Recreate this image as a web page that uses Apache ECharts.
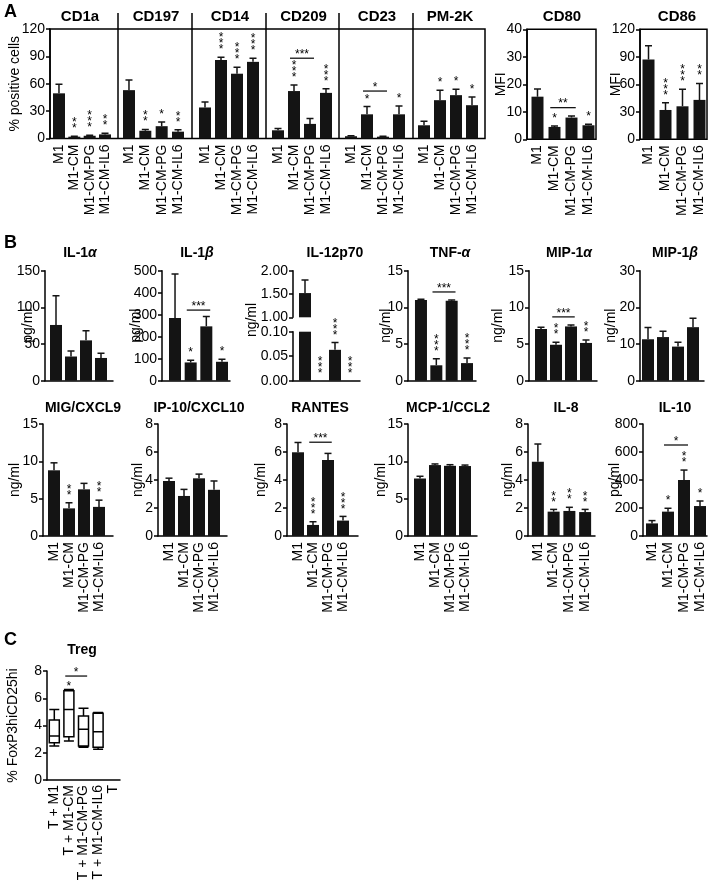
<!DOCTYPE html>
<html><head><meta charset="utf-8">
<script src="https://cdn.jsdelivr.net/npm/echarts@6/dist/echarts.min.js"></script>
<style>html,body{margin:0;padding:0;background:#fff}#c{width:709px;height:886px}</style>
</head><body><div id="c"></div>
<script>
// ---------------- DATA ----------------
const categories = ['M1', 'M1-CM', 'M1-CM-PG', 'M1-CM-IL6'];
const tregCategories = ['T + M1', 'T + M1-CM', 'T + M1-CM-PG', 'T + M1-CM-IL6', 'T'];

// Panel A (% positive cells, MFI): mean and SEM
const CD1a_mean = [49.5, 2, 3, 4.5];      const CD1a_sem = [10, 0.5, 0.6, 1.2];   const CD1a_stars = ['', '**', '***', '**'];
const CD197_mean = [53, 8.5, 13.5, 7.5];  const CD197_sem = [11, 1.5, 4.5, 2];    const CD197_stars = ['', '**', '*', '**'];
const CD14_mean = [34, 86, 71, 84];       const CD14_sem = [6, 3, 7, 4];          const CD14_stars = ['', '***', '***', '***'];
const CD209_mean = [9, 52, 16, 50];       const CD209_sem = [2, 6.5, 6, 4.5];     const CD209_stars = ['', '***', '', '***'];
const CD23_mean = [2.5, 26.5, 2, 26.5];   const CD23_sem = [0.5, 8.5, 0.5, 9];    const CD23_stars = ['', '*', '', '*'];
const PM2K_mean = [14.5, 42, 47.5, 36.5]; const PM2K_sem = [4.5, 11, 6.5, 9];     const PM2K_stars = ['', '*', '*', '*'];
const CD80_mean = [15.5, 4.5, 7.9, 5.1];  const CD80_sem = [2.8, 0.3, 0.6, 0.4];  const CD80_stars = ['', '*', '', '*'];
const CD86_mean = [87, 32, 36, 43];       const CD86_sem = [15, 8, 18.5, 18];     const CD86_stars = ['', '***', '***', '**'];
const percentTicks = [0, 30, 60, 90, 120];

// Panel B (cytokines): mean and SEM
const IL1a_mean = [76, 33, 55, 31];       const IL1a_sem = [40, 7.5, 13, 6.5];
const IL1b_mean = [285, 83, 247, 86];     const IL1b_sem = [200, 10, 45, 12];     const IL1b_stars = ['', '*', '', '*'];
const IL12_mean = [1.52, 0, 0.063, 0];    const IL12_sem = [0.28, 0, 0.015, 0];   const IL12_stars = ['', '***', '***', '***'];
const TNFa_mean = [11.0, 2.1, 10.9, 2.4]; const TNFa_sem = [0.12, 0.9, 0.12, 0.7]; const TNFa_stars = ['', '***', '', '***'];
const MIP1a_mean = [7.05, 4.9, 7.4, 5.15];const MIP1a_sem = [0.25, 0.35, 0.2, 0.4];const MIP1a_stars = ['', '**', '', '**'];
const MIP1b_mean = [11.3, 11.9, 9.3, 14.6];const MIP1b_sem = [3.2, 1.6, 1.2, 2.4];
const MIG_mean = [8.8, 3.7, 6.25, 3.9];   const MIG_sem = [1.0, 0.75, 0.8, 0.9];  const MIG_stars = ['', '**', '', '**'];
const IP10_mean = [3.93, 2.86, 4.12, 3.3];const IP10_sem = [0.2, 0.47, 0.3, 0.63];
const RANTES_mean = [5.98, 0.79, 5.43, 1.1]; const RANTES_sem = [0.7, 0.23, 0.47, 0.3]; const RANTES_stars = ['', '***', '', '***'];
const MCP1_mean = [7.7, 9.5, 9.4, 9.37];  const MCP1_sem = [0.3, 0.15, 0.15, 0.13];
const IL8_mean = [5.3, 1.74, 1.79, 1.71]; const IL8_sem = [1.27, 0.16, 0.26, 0.19]; const IL8_stars = ['', '**', '**', '**'];
const IL10_mean = [90, 174, 400, 214];    const IL10_sem = [20, 24, 71, 36];      const IL10_stars = ['', '*', '**', '*'];

// Brackets: [from index, to index, height, label]
const CD209_bracket = [1, 2, 88, '***'];
const CD23_bracket = [1, 2, 52, '*'];
const CD80_bracket = [1, 2, 11.5, '**'];
const IL1b_bracket = [1, 2, 321, '***'];
const TNFa_bracket = [1, 2, 12.1, '***'];
const MIP1a_bracket = [1, 2, 8.7, '***'];
const RANTES_bracket = [1, 2, 6.7, '***'];
const IL10_bracket = [1, 2, 650, '*'];
const Treg_bracket = [1, 2, 7.63, '*'];

// Panel C (Treg %): [min, Q1, median, Q3, max]
const Treg_TM1 = [2.5, 2.74, 3.23, 4.4, 5.18];
const Treg_TCM = [2.86, 3.18, 5.18, 6.55, 6.65];
const Treg_TPG = [2.4, 2.5, 3.72, 4.7, 5.26];
const Treg_TIL6 = [2.25, 2.4, 3.55, 4.89, 4.96];
const Treg_stars = ['', '*', '', '', ''];

// ---------------- BUILD ----------------
const FONT = '"Liberation Sans", Arial, Helvetica, sans-serif';
const INK = '#141414';
const STAR_FONT = '12px ' + FONT;
const grids = [], xAxes = [], yAxes = [], series = [], titles = [], graphics = [];

function addGrid(l, r, t, b, border) {
  grids.push({left: l, top: t, width: r - l, height: b - t, show: !!border,
    borderColor: '#000', borderWidth: 1.5, backgroundColor: 'rgba(0,0,0,0)'});
  return grids.length - 1;
}
function outerAxes(gi, o) {
  xAxes.push({gridIndex: gi, type: 'category', data: o.cats || categories,
    axisLine: {show: !!o.xLine, lineStyle: {color: '#000', width: 1.5}},
    axisTick: {show: false}, axisLabel: {show: false}, splitLine: {show: false}});
  yAxes.push({gridIndex: gi, type: 'value', min: o.min, max: o.max, interval: o.interval,
    axisLine: {show: true, lineStyle: {color: '#000', width: 1.5}},
    axisTick: {show: true, length: 4, lineStyle: {color: '#000', width: 1.5}},
    axisLabel: {color: '#000', fontSize: 14, fontFamily: FONT, margin: 5, formatter: o.fmt},
    splitLine: {show: false},
    name: o.name || '', nameLocation: 'middle', nameGap: o.nameGap || 20, nameRotate: 90, nameMoveOverlap: false,
    nameTextStyle: {color: '#000', fontSize: 14, fontFamily: FONT}});
}
function innerAxes(gi, o) {
  xAxes.push({gridIndex: gi, type: 'category', data: o.cats || categories,
    axisLine: {show: false}, axisTick: {show: false}, splitLine: {show: false},
    axisLabel: {show: !!o.labels, rotate: 90, interval: 0, color: '#000', fontSize: 14, fontFamily: FONT, margin: 6}});
  yAxes.push({gridIndex: gi, type: 'value', min: o.min, max: o.max, show: false, splitLine: {show: false}});
}
function starSeries(gi, tops, stars, gap) {
  series.push({type: 'custom', xAxisIndex: gi, yAxisIndex: gi, silent: true,
    data: tops.map((t, i) => [i, t]),
    renderItem: function (params, api) {
      const s = stars[params.dataIndex];
      if (!s) return null;
      const p = api.coord([api.value(0), api.value(1)]);
      const ch = [];
      for (let k = 0; k < s.length; k++) {
        ch.push({type: 'text', style: {text: '*', x: p[0], y: p[1] - (gap || 10) - k * 6 + 2.8,
          align: 'center', verticalAlign: 'middle', font: STAR_FONT, fill: '#000'}});
      }
      return {type: 'group', children: ch};
    }});
}
function bracketSeries(gi, br) {
  series.push({type: 'custom', xAxisIndex: gi, yAxisIndex: gi, silent: true,
    data: [[br[0], br[2], br[1]]],
    renderItem: function (params, api) {
      const p1 = api.coord([api.value(0), api.value(1)]);
      const p2 = api.coord([api.value(2), api.value(1)]);
      const bw = api.size([1, 0])[0];
      const x1 = p1[0] - 0.25 * bw, x2 = p2[0] + 0.25 * bw;
      return {type: 'group', children: [
        {type: 'line', shape: {x1: x1, y1: p1[1], x2: x2, y2: p1[1]}, style: {stroke: '#000', lineWidth: 1.2}},
        {type: 'text', style: {text: br[3], x: (x1 + x2) / 2, y: p1[1] - 3.5, align: 'center',
          verticalAlign: 'middle', font: STAR_FONT, fill: '#000'}}
      ]};
    }});
}
function barsOn(gi, mean, sem, stars, bracket) {
  series.push({type: 'bar', xAxisIndex: gi, yAxisIndex: gi, data: mean, barWidth: 12,
    itemStyle: {color: INK}, silent: true});
  series.push({type: 'custom', xAxisIndex: gi, yAxisIndex: gi, silent: true, clip: true,
    data: mean.map((m, i) => [i, m, m + sem[i]]),
    renderItem: function (params, api) {
      if (api.value(2) <= api.value(1)) return null;
      const a = api.coord([api.value(0), api.value(1)]);
      const b = api.coord([api.value(0), api.value(2)]);
      return {type: 'group', children: [
        {type: 'line', shape: {x1: a[0], y1: a[1], x2: b[0], y2: b[1]}, style: {stroke: INK, lineWidth: 1.5}},
        {type: 'line', shape: {x1: b[0] - 3.5, y1: b[1], x2: b[0] + 3.5, y2: b[1]}, style: {stroke: INK, lineWidth: 1.5}}
      ]};
    }});
  if (stars) starSeries(gi, mean.map((m, i) => m + sem[i]), stars);
  if (bracket) bracketSeries(gi, bracket);
}
function addTitle(rich, x, yc, size) {
  titles.push({text: rich, left: x, top: yc - 9, textAlign: 'center', padding: 0, itemGap: 0,
    textStyle: {rich: {
      b: {fontWeight: 'bold', fontSize: size || 14, fontFamily: FONT, color: '#000'},
      i: {fontWeight: 'bold', fontStyle: 'italic', fontSize: size || 14, fontFamily: FONT, color: '#000'}}}});
}
function panel(o) {
  const go = addGrid(o.axis[0], o.axis[1], o.top, o.bottom, o.frame);
  outerAxes(go, {min: o.min, max: o.max, interval: o.interval, name: o.name, nameGap: o.nameGap, fmt: o.fmt, xLine: !o.frame && o.xLine !== false});
  const gi = addGrid(o.inner[0], o.inner[1], o.top, o.bottom, false);
  innerAxes(gi, {min: o.min, max: o.max, labels: o.labels});
  if (o.mean) barsOn(gi, o.mean, o.sem, o.stars, o.bracket);
  if (o.title) addTitle(o.title, o.titleX, o.titleY, o.titleSize);
  return gi;
}

// ---- Panel A ----
const A_top = 29, A_bot = 138.5, A_divTop = 13;
const A_edges = [40, 118, 192, 266, 339, 413, 485];
const A_inner = [[51.3, 112.7], [120.8, 186.2], [197, 261], [270, 334], [343, 407], [416, 480]];
const A_names = ['CD1a', 'CD197', 'CD14', 'CD209', 'CD23', 'PM-2K'];
const A_means = [CD1a_mean, CD197_mean, CD14_mean, CD209_mean, CD23_mean, PM2K_mean];
const A_sems = [CD1a_sem, CD197_sem, CD14_sem, CD209_sem, CD23_sem, PM2K_sem];
const A_stars = [CD1a_stars, CD197_stars, CD14_stars, CD209_stars, CD23_stars, PM2K_stars];
const A_brackets = [null, null, null, CD209_bracket, CD23_bracket, null];

const gFrame = addGrid(A_edges[0], A_edges[6], A_top, A_bot, true);
outerAxes(gFrame, {min: percentTicks[0], max: percentTicks[4], interval: percentTicks[1] - percentTicks[0],
  name: '% positive cells', nameGap: 28, xLine: false});
for (let s = 0; s < 6; s++) {
  const gi = addGrid(A_inner[s][0], A_inner[s][1], A_top, A_bot, false);
  innerAxes(gi, {min: 0, max: 120, labels: true});
  barsOn(gi, A_means[s], A_sems[s], A_stars[s], A_brackets[s]);
  addTitle('{b|' + A_names[s] + '}', (A_edges[s] + A_edges[s + 1]) / 2 + 1, 18, 15);
  if (s > 0) graphics.push({type: 'line', shape: {x1: A_edges[s], y1: A_divTop, x2: A_edges[s], y2: A_bot},
    style: {stroke: '#000', lineWidth: 1.5}});
}
panel({axis: [527, 596], inner: [529, 597], top: 29.3, bottom: 139.3, frame: true, min: 0, max: 40, interval: 10,
  name: 'MFI', nameGap: 19, labels: true, mean: CD80_mean, sem: CD80_sem, stars: CD80_stars, bracket: CD80_bracket,
  title: '{b|CD80}', titleX: 562, titleY: 18, titleSize: 15});
panel({axis: [640, 707], inner: [640, 708], top: 29.3, bottom: 139.3, frame: true, min: 0, max: 120, interval: 30,
  name: 'MFI', nameGap: 17, labels: true, mean: CD86_mean, sem: CD86_sem, stars: CD86_stars,
  title: '{b|CD86}', titleX: 677, titleY: 18, titleSize: 15});

// ---- Panel B row 1 ----
const R1t = 270.7, R1b = 380.7;
panel({axis: [45, 113], inner: [48.5, 108.5], top: R1t, bottom: R1b, min: 0, max: 150, interval: 50,
  name: 'pg/ml', nameGap: 10, mean: IL1a_mean, sem: IL1a_sem, title: '{b|IL-1}{i|α}', titleX: 80, titleY: 255});
panel({axis: [162, 230], inner: [167.2, 229.8], top: R1t, bottom: R1b, min: 0, max: 500, interval: 100,
  name: 'pg/ml', nameGap: 19, mean: IL1b_mean, sem: IL1b_sem, stars: IL1b_stars, bracket: IL1b_bracket,
  title: '{b|IL-1}{i|β}', titleX: 197, titleY: 255});
// IL-12p70 broken axis: upper and lower segments
const fmt2 = v => v.toFixed(2);
panel({axis: [293, 360], inner: [297.5, 357.5], top: R1t, bottom: 317.3, min: 1, max: 2, interval: 0.5,
  fmt: fmt2, xLine: false, mean: IL12_mean, sem: IL12_sem, title: '{b|IL-12p70}', titleX: 335, titleY: 255});
panel({axis: [293, 360], inner: [297.5, 357.5], top: 331.7, bottom: R1b, min: 0, max: 0.1, interval: 0.05,
  fmt: fmt2, mean: IL12_mean, sem: IL12_sem, stars: IL12_stars});
graphics.push({type: 'text', x: 252, y: 320, rotation: Math.PI / 2,
  style: {text: 'ng/ml', align: 'center', verticalAlign: 'middle', font: '14px ' + FONT, fill: '#000'}});
panel({axis: [408, 476], inner: [413.3, 474.7], top: R1t, bottom: R1b, min: 0, max: 15, interval: 5,
  name: 'ng/ml', nameGap: 15, mean: TNFa_mean, sem: TNFa_sem, stars: TNFa_stars, bracket: TNFa_bracket,
  title: '{b|TNF-}{i|α}', titleX: 450, titleY: 255});
panel({axis: [529, 597], inner: [533.5, 593.5], top: R1t, bottom: R1b, min: 0, max: 15, interval: 5,
  name: 'ng/ml', nameGap: 24, mean: MIP1a_mean, sem: MIP1a_sem, stars: MIP1a_stars, bracket: MIP1a_bracket,
  title: '{b|MIP-1}{i|α}', titleX: 569, titleY: 255});
panel({axis: [640, 704], inner: [640.5, 700.5], top: R1t, bottom: R1b, min: 0, max: 30, interval: 10,
  name: 'ng/ml', nameGap: 22, mean: MIP1b_mean, sem: MIP1b_sem,
  title: '{b|MIP-1}{i|β}', titleX: 675, titleY: 255});

// ---- Panel B row 2 ----
const R2t = 424, R2b = 536;
panel({axis: [43, 113], inner: [46.5, 106.5], top: R2t, bottom: R2b, min: 0, max: 15, interval: 5, labels: true,
  name: 'ng/ml', nameGap: 21, mean: MIG_mean, sem: MIG_sem, stars: MIG_stars, title: '{b|MIG/CXCL9}', titleX: 83, titleY: 410});
panel({axis: [158, 227], inner: [161.5, 221.5], top: R2t, bottom: R2b, min: 0, max: 8, interval: 2, labels: true,
  name: 'ng/ml', nameGap: 13, mean: IP10_mean, sem: IP10_sem, title: '{b|IP-10/CXCL10}', titleX: 199, titleY: 410});
panel({axis: [287, 358], inner: [290.5, 350.5], top: R2t, bottom: R2b, min: 0, max: 8, interval: 2, labels: true,
  name: 'ng/ml', nameGap: 19, mean: RANTES_mean, sem: RANTES_sem, stars: RANTES_stars, bracket: RANTES_bracket,
  title: '{b|RANTES}', titleX: 320, titleY: 410});
panel({axis: [408, 477], inner: [412.5, 472.5], top: R2t, bottom: R2b, min: 0, max: 15, interval: 5, labels: true,
  name: 'ng/ml', nameGap: 20, mean: MCP1_mean, sem: MCP1_sem, title: '{b|MCP-1/CCL2}', titleX: 448, titleY: 410});
panel({axis: [528, 595], inner: [530, 593], top: R2t, bottom: R2b, min: 0, max: 8, interval: 2, labels: true,
  name: 'ng/ml', nameGap: 13, mean: IL8_mean, sem: IL8_sem, stars: IL8_stars, title: '{b|IL-8}', titleX: 566, titleY: 410});
panel({axis: [643, 707], inner: [644, 708], top: R2t, bottom: R2b, min: 0, max: 800, interval: 200, labels: true,
  name: 'pg/ml', nameGap: 21, mean: IL10_mean, sem: IL10_sem, stars: IL10_stars, bracket: IL10_bracket,
  title: '{b|IL-10}', titleX: 675, titleY: 410});

// ---- Panel C ----
const gT = addGrid(47, 120, 671, 780, false);
xAxes.push({gridIndex: gT, type: 'category', data: tregCategories,
  axisLine: {show: true, lineStyle: {color: '#000', width: 1.5}}, axisTick: {show: false}, splitLine: {show: false},
  axisLabel: {rotate: 90, interval: 0, color: '#000', fontSize: 14, fontFamily: FONT, margin: 5}});
yAxes.push({gridIndex: gT, type: 'value', min: 0, max: 8, interval: 2,
  axisLine: {show: true, lineStyle: {color: '#000', width: 1.5}},
  axisTick: {show: true, length: 4, lineStyle: {color: '#000', width: 1.5}},
  axisLabel: {color: '#000', fontSize: 14, fontFamily: FONT, margin: 5}, splitLine: {show: false},
  name: '% FoxP3hiCD25hi', nameLocation: 'middle', nameGap: 27, nameRotate: 90, nameMoveOverlap: false,
  nameTextStyle: {color: '#000', fontSize: 14, fontFamily: FONT}});
const tregBoxes = [Treg_TM1, Treg_TCM, Treg_TPG, Treg_TIL6];
series.push({type: 'boxplot', xAxisIndex: gT, yAxisIndex: gT, data: tregBoxes, boxWidth: [10, 10], silent: true,
  itemStyle: {color: '#fff', borderColor: '#000', borderWidth: 1.5}});
starSeries(gT, tregBoxes.map(b => b[4]), Treg_stars, 6);
bracketSeries(gT, Treg_bracket);
addTitle('{b|Treg}', 82, 652);

// panel letters
[['A', 4, 12], ['B', 4, 243], ['C', 4, 640]].forEach(([t, x, y]) => graphics.push({type: 'text', x: x, y: y,
  style: {text: t, align: 'left', verticalAlign: 'middle', font: 'bold 18px ' + FONT, fill: '#000'}}));

const chart = echarts.init(document.getElementById('c'), null, {renderer: 'canvas'});
chart.setOption({backgroundColor: '#fff', animation: false, title: titles, grid: grids,
  xAxis: xAxes, yAxis: yAxes, series: series, graphic: graphics});
</script></body></html>
